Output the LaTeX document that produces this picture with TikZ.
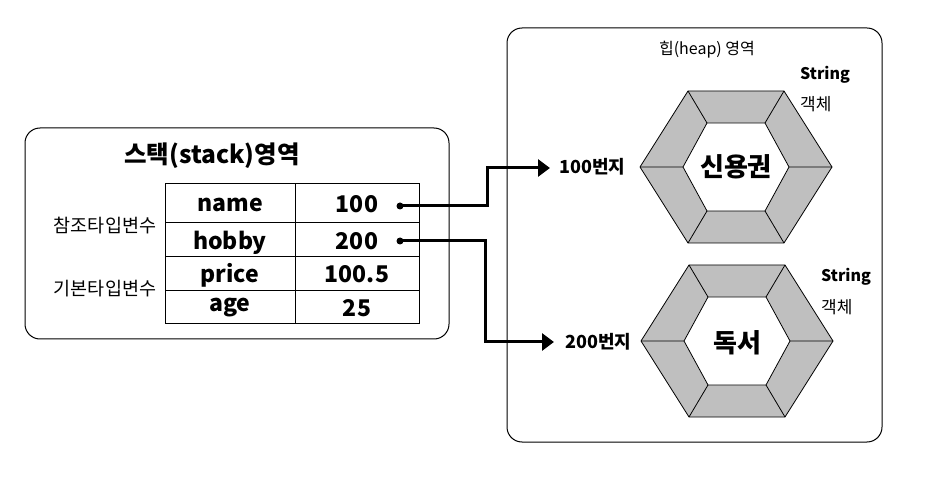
\documentclass[tikz,border=0pt]{standalone}
\usepackage{fontspec}
\setmainfont{Noto Sans CJK KR}
\usetikzlibrary{arrows.meta}
\tikzset{
  region/.style={draw,line width=1pt,rounded corners=15pt},
  cell/.style={font=\bfseries\fontsize{23}{26}\selectfont,inner sep=0pt},
  sidelabel/.style={font=\fontsize{18.5}{20}\selectfont,inner sep=0pt},
  addr/.style={font=\bfseries\fontsize{18}{20}\selectfont,inner sep=0pt,anchor=west},
  objlabel/.style={font=\fontsize{17}{19}\selectfont,inner sep=0pt,anchor=west},
  strlabel/.style={font=\bfseries\fontsize{16}{19}\selectfont,inner sep=0pt,anchor=west},
  content/.style={font=\bfseries\fontsize{26}{29}\selectfont,inner sep=0pt},
  dotnode/.style={circle,fill=black,inner sep=0pt,minimum size=7pt},
  ptr/.style={line width=3pt,-{Triangle[length=12pt,width=17pt]}},
  gridline/.style={line width=1pt},
  hexline/.style={line width=0.8pt}
}
\newcommand{\hexobj}[2]{%
  \begin{scope}[shift={(#1,#2)}]
    \fill[gray!50!white, draw=black, hexline] (-48,-76) -- (48,-76) -- (96,0) -- (48,76) -- (-48,76) -- (-96,0) -- cycle;
    \fill[white, draw=black, hexline] (-29,-44) -- (29,-44) -- (53,0) -- (29,44) -- (-29,44) -- (-53,0) -- cycle;
    \draw[hexline] (-48,-76) -- (-29,-44) (48,-76) -- (29,-44) (96,0) -- (53,0)
      (48,76) -- (29,44) (-48,76) -- (-29,44) (-96,0) -- (-53,0);
  \end{scope}}
\begin{document}
\begin{tikzpicture}[x=1pt,y=-1pt]
\useasboundingbox (0,0) rectangle (930,489);
% stack region
\draw[region] (25,128) rectangle (449,339);
\node[font=\bfseries\fontsize{24.5}{28}\selectfont,inner sep=0pt] (stitle) at (212,156) {스택(stack)영역};
% table
\draw[gridline] (165,184) rectangle (419,324);
\draw[gridline] (295,184) -- (295,324);
\draw[gridline] (165,223) -- (419,223) (165,257) -- (419,257) (165,291) -- (419,291);
\node[cell] (n1) at (230,205) {name};
\node[cell] (n2) at (230,243) {hobby};
\node[cell] (n3) at (230,275) {price};
\node[cell] (n4) at (230,308) {age};
\node[cell] (v1) at (357,204) {100};
\node[cell] (v2) at (357,241) {200};
\node[cell] (v3) at (357,274) {100.5};
\node[cell] (v4) at (357,308) {25};
\node[sidelabel] (ref) at (105,226) {참조타입변수};
\node[sidelabel] (prim) at (105,289) {기본타입변수};
% heap region
\draw[region] (507,28) rectangle (882,442);
\node[font=\fontsize{16}{19}\selectfont,inner sep=0pt] (htitle) at (707,50) {힙(heap) 영역};
\hexobj{736}{167}
\hexobj{737}{341}
\node[content] (c1) at (736,167) {신용권};
\node[content] (c2) at (737,343) {독서};
\node[strlabel] (s1) at (800,75) {String};
\node[objlabel] (o1) at (800,104) {객체};
\node[strlabel] (s2) at (821,277) {String};
\node[objlabel] (o2) at (821,307) {객체};
\node[addr] (a1) at (559,167) {100번지};
\node[addr] (a2) at (565,342) {200번지};
% pointers
\node[dotnode] (d1) at (400,206) {};
\node[dotnode] (d2) at (400,241) {};
\coordinate (t1) at (550,168);
\coordinate (t2) at (554,342);
\draw[ptr] (d1.center) -- (487,206) -- (487,168) -- (t1);
\draw[ptr] (d2.center) -- (485,241) -- (485,342) -- (t2);
\end{tikzpicture}
\end{document}
